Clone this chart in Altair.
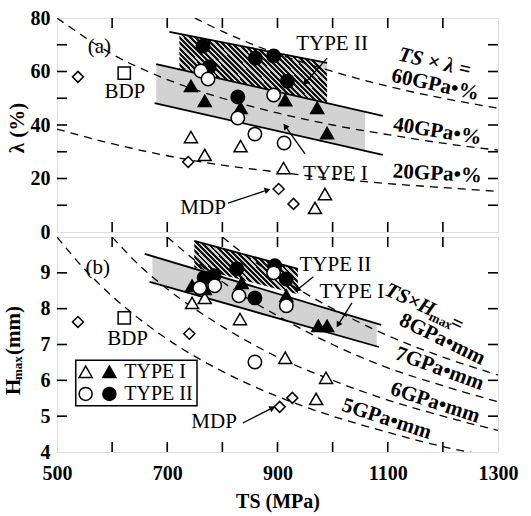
import altair as alt
import pandas as pd

FONT = "Liberation Serif"

# ---------------- panel (a): TS (MPa) vs lambda (%) ----------------
a_diamond_ts = [538, 738, 902, 929]
a_diamond_v = [58.0, 26.2, 16.1, 10.5]
a_bdp_ts = [622]
a_bdp_v = [59.4]
a_tri_open_ts = [743, 768, 833, 911, 968, 986]
a_tri_open_v = [35.5, 28.8, 32.1, 23.9, 9.0, 14.2]
a_tri_fill_ts = [743, 768, 833, 914, 972, 990]
a_tri_fill_v = [54.6, 49.0, 46.4, 49.3, 46.4, 37.0]
a_circ_fill_ts = [765, 860, 893, 776, 918, 828]
a_circ_fill_v = [69.5, 65.0, 65.8, 61.7, 56.4, 50.5]
a_circ_open_ts = [761, 774, 893, 828, 859, 912]
a_circ_open_v = [60.2, 57.2, 51.2, 42.6, 36.6, 33.3]

# bands (type II hatched, type I stippled) and their boundary lines
a_t2_ts = [722, 990]
a_t2_lo = [60.8, 48.2]
a_t2_hi = [74.1, 63.2]
a_t2_line_ts = [704, 990]
a_t2_line_v = [74.8, 63.2]
a_t1_ts = [680, 1059]
a_t1_lo = [48.1, 30.3]
a_t1_hi = [62.8, 44.9]
a_t1_up_ts = [680, 1091]
a_t1_up_v = [62.8, 43.4]
a_t1_low_ts = [677, 1091]
a_t1_low_v = [48.2, 28.8]

# iso TS x lambda curves
a_c20_ts = [500, 600, 700, 800, 900, 1000, 1100, 1200, 1300]
a_c20_v = [38.5, 33.0, 28.5, 25.0, 22.4, 20.0, 18.1, 16.6, 15.2]
a_c40_ts = [500, 600, 700, 800, 900, 1000, 1100, 1200, 1300]
a_c40_v = [80.0, 66.5, 57.0, 50.0, 44.5, 40.0, 36.4, 33.2, 30.6]
a_c60_ts = [750, 800, 900, 1000, 1100, 1200, 1300]
a_c60_v = [80.0, 75.0, 66.6, 60.0, 54.5, 50.0, 46.3]

# arrows (start, end) and head angle
a_arrow_grp = ["t2", "t2", "t1", "t1", "mdp", "mdp"]
a_arrow_ts = [990, 950, 950, 914, 810, 882]
a_arrow_v = [65.0, 55.7, 29.2, 39.6, 10.8, 15.7]
a_head_ts = [950, 914, 882]
a_head_v = [55.7, 39.6, 15.7]
a_head_ang = [221, 324, 73]

# texts
a_lab = ["(a)", "BDP", "TYPE II", "TYPE I", "MDP"]
a_lab_ts = [577, 623, 999, 1005, 765]
a_lab_v = [69.2, 52.3, 70.3, 21.7, 9.0]
a_curve_lab = ["60GPa•%", "40GPa•%", "20GPa•%"]
a_curve_lab_ts = [1186, 1190, 1190]
a_curve_lab_v = [55.0, 37.6, 21.7]
a_curve_lab_ang = [12, 9, 3]
a_head_lab = ["TS × λ ="]
a_head_lab_ts = [1185]
a_head_lab_v = [63.3]
a_head_lab_ang = [13]

# ---------------- panel (b): TS (MPa) vs Hmax (mm) ----------------
b_diamond_ts = [538, 740, 904, 927]
b_diamond_v = [7.63, 7.30, 5.26, 5.51]
b_bdp_ts = [622]
b_bdp_v = [7.74]
b_tri_open_ts = [745, 768, 832, 914, 988, 970]
b_tri_open_v = [8.16, 8.30, 7.71, 6.63, 6.07, 5.48]
b_tri_fill_ts = [745, 768, 835, 916, 974, 990]
b_tri_fill_v = [8.64, 8.55, 8.72, 8.36, 7.52, 7.52]
b_circ_fill_ts = [767, 785, 826, 895, 916, 859]
b_circ_fill_v = [8.86, 8.92, 9.11, 9.20, 8.83, 8.30]
b_circ_open_ts = [759, 786, 830, 893, 916, 859]
b_circ_open_v = [8.58, 8.64, 8.36, 9.00, 8.08, 6.51]

b_t2_ts = [749, 937]
b_t2_lo = [9.15, 8.40]
b_t2_hi = [9.89, 9.11]
b_t1_ts = [673, 1080]
b_t1_lo = [8.73, 6.95]
b_t1_hi = [9.50, 7.57]
b_t1_up_ts = [659, 1088]
b_t1_up_v = [9.53, 7.55]
b_t1_low_ts = [668, 1084]
b_t1_low_v = [8.75, 6.93]

b_c5_ts = [500, 550, 600, 700, 800, 900, 1000, 1100, 1200, 1300]
b_c5_v = [10.0, 9.1, 8.35, 7.15, 6.25, 5.55, 5.0, 4.55, 4.15, 3.85]
b_c6_ts = [600, 650, 700, 800, 900, 1000, 1100, 1200, 1300]
b_c6_v = [10.0, 9.2, 8.55, 7.5, 6.65, 6.0, 5.45, 5.0, 4.6]
b_c7_ts = [700, 750, 800, 900, 1000, 1100, 1200, 1300]
b_c7_v = [10.0, 9.35, 8.75, 7.8, 7.0, 6.35, 5.85, 5.4]
b_c8_ts = [800, 850, 900, 1000, 1100, 1200, 1300]
b_c8_v = [10.0, 9.4, 8.9, 8.0, 7.25, 6.65, 6.15]

b_arrow_grp = ["t2", "t2", "t1", "t1", "mdp", "mdp"]
b_arrow_ts = [965, 936, 1035, 1010, 837, 891]
b_arrow_v = [8.89, 8.53, 8.16, 7.55, 4.81, 5.23]
b_head_ts = [936, 1010, 891]
b_head_v = [8.53, 7.55, 5.23]
b_head_ang = [231, 212, 63]

b_lab = ["(b)", "BDP", "TYPE II", "TYPE I", "MDP"]
b_lab_ts = [574, 628, 1005, 1035, 785]
b_lab_v = [9.14, 7.16, 9.22, 8.47, 4.84]
b_curve_lab = ["8GPa•mm", "7GPa•mm", "6GPa•mm", "5GPa•mm"]
b_curve_lab_ts = [1199, 1194, 1186, 1098]
b_curve_lab_v = [7.14, 6.32, 5.37, 4.92]
b_curve_lab_ang = [26, 20, 18, 18]
b_head_lab_ts = [1097]
b_head_lab_v = [8.55]
b_head_lab_ang = [25]

# legend box (in panel b data coordinates)
leg_box_ts = [534, 754]
leg_box_v = [6.56, 5.29]
leg_open_tri_ts, leg_fill_tri_ts = [552], [595]
leg_tri_v = [6.24]
leg_circ_v = [5.62]
leg_text = ["TYPE I", "TYPE II"]
leg_text_ts = [622, 622]
leg_text_v = [6.24, 5.62]

W = 441
HA = 214
HB = 215
TICK = 10

xs = alt.Scale(domain=[500, 1300], nice=False, zero=False)
ya_s = alt.Scale(domain=[0, 80], nice=False, zero=False)
yb_s = alt.Scale(domain=[4, 10], nice=False, zero=False)

lab_axis = dict(labelFont=FONT, labelFontSize=20, labelFontWeight="bold", labelColor="black",
                ticks=False, domain=False, grid=False, labelFlush=False, labelOverlap=False)

x_axis_b = alt.Axis(values=list(range(500, 1301, 100)), format="d",
                    labelExpr="datum.value % 200 == 100 ? datum.label : ''",
                    title="TS (MPa)", titleFont=FONT, titleFontSize=20, titleFontWeight="bold",
                    titleColor="black", labelPadding=11, titlePadding=8, **lab_axis)
y_axis_a = alt.Axis(values=[0, 20, 40, 60, 80], title=None, labelPadding=7, **lab_axis)
y_axis_b = alt.Axis(values=[4, 5, 6, 7, 8, 9], title=None, labelPadding=7, **lab_axis)


def stripes(n, y2, dark, light, frac):
    stops = []
    for i in range(n):
        a, b, c = i / n, (i + frac) / n, (i + 1) / n
        stops += [alt.GradientStop(offset=a, color=dark), alt.GradientStop(offset=b, color=dark),
                  alt.GradientStop(offset=b, color=light), alt.GradientStop(offset=min(c, 1.0), color=light)]
    return alt.LinearGradient(gradient="linear", stops=stops, x1=0, y1=1, x2=1, y2=y2)


def df(**cols):
    return pd.DataFrame(cols)


def build_panel(X, Y, d, height, extra_y_ticks, x_ticks, hatch_n, hatch_y2):
    layers = []
    # stippled type I band
    layers.append(alt.Chart(df(ts=d["t1_ts"], v=d["t1_lo"], v2=d["t1_hi"])).mark_area(
        color="#d2d2d2", opacity=1).encode(x=X, y=Y, y2=alt.Y2("v2:Q")))
    # hatched type II band
    layers.append(alt.Chart(df(ts=d["t2_ts"], v=d["t2_lo"], v2=d["t2_hi"])).mark_area(
        color=stripes(hatch_n, hatch_y2, "#111111", "#d0d0d0", 0.55), opacity=1).encode(
        x=X, y=Y, y2=alt.Y2("v2:Q")))
    # dashed iso-product curves
    cts, cv, cg = [], [], []
    for k, (t, v) in enumerate(d["curves"]):
        cts += t
        cv += v
        cg += [k] * len(t)
    layers.append(alt.Chart(df(ts=cts, v=cv, g=cg)).mark_line(
        color="black", strokeWidth=1.3, strokeDash=[8, 6], clip=True, interpolate="monotone").encode(
        x=X, y=Y, detail="g:N"))
    # solid band boundary lines
    lts, lv, lg = [], [], []
    for k, (t, v) in enumerate(d["lines"]):
        lts += t
        lv += v
        lg += [k] * len(t)
    layers.append(alt.Chart(df(ts=lts, v=lv, g=lg)).mark_line(
        color="black", strokeWidth=1.8).encode(x=X, y=Y, detail="g:N"))
    # inward ticks
    tdf = df(ts=x_ticks)
    layers.append(alt.Chart(tdf).mark_rule(color="black", strokeWidth=1.6).encode(
        x=X, y=alt.value(0), y2=alt.value(TICK)))
    layers.append(alt.Chart(tdf).mark_rule(color="black", strokeWidth=1.6).encode(
        x=X, y=alt.value(height), y2=alt.value(height - TICK)))
    ydf = df(v=extra_y_ticks)
    layers.append(alt.Chart(ydf).mark_rule(color="black", strokeWidth=1.6).encode(
        y=Y, x=alt.value(0), x2=alt.value(TICK)))
    layers.append(alt.Chart(ydf).mark_rule(color="black", strokeWidth=1.6).encode(
        y=Y, x=alt.value(W), x2=alt.value(W - TICK)))

    def pts(ts, v, shape, filled, size):
        return alt.Chart(df(ts=ts, v=v)).mark_point(
            shape=shape, filled=True, fill="black" if filled else "white", stroke="black",
            strokeWidth=1.5, size=size, opacity=1).encode(x=X, y=Y)

    layers.append(pts(d["dia_ts"], d["dia_v"], "diamond", False, 120))
    layers.append(pts(d["bdp_ts"], d["bdp_v"], "square", False, 150))
    layers.append(pts(d["to_ts"], d["to_v"], "triangle-up", False, 170))
    layers.append(pts(d["tf_ts"], d["tf_v"], "triangle-up", True, 170))
    layers.append(pts(d["cf_ts"], d["cf_v"], "circle", True, 180))
    layers.append(pts(d["co_ts"], d["co_v"], "circle", False, 180))
    # arrows
    layers.append(alt.Chart(df(ts=d["ar_ts"], v=d["ar_v"], g=d["ar_g"])).mark_line(
        color="black", strokeWidth=1.3).encode(x=X, y=Y, detail="g:N"))
    layers.append(alt.Chart(df(ts=d["hd_ts"], v=d["hd_v"], ang=d["hd_ang"])).mark_point(
        shape="triangle-up", filled=True, color="black", size=45, opacity=1).encode(
        x=X, y=Y, angle=alt.Angle("ang:Q", scale=None)))
    # labels
    layers.append(alt.Chart(df(ts=d["lab_ts"], v=d["lab_v"], label=d["lab"])).mark_text(
        font=FONT, fontSize=21, color="black", align="center", baseline="middle").encode(
        x=X, y=Y, text="label:N"))
    layers.append(alt.Chart(df(ts=d["cl_ts"], v=d["cl_v"], label=d["cl"], ang=d["cl_ang"])).mark_text(
        font=FONT, fontSize=21, fontWeight="bold", color="black", align="center", baseline="middle").encode(
        x=X, y=Y, text="label:N", angle=alt.Angle("ang:Q", scale=None)))
    return layers


X_a = alt.X("ts:Q", scale=xs, axis=None)
Y_a = alt.Y("v:Q", scale=ya_s, axis=y_axis_a)
X_b = alt.X("ts:Q", scale=xs, axis=x_axis_b)
Y_b = alt.Y("v:Q", scale=yb_s, axis=y_axis_b)

da = dict(t1_ts=a_t1_ts, t1_lo=a_t1_lo, t1_hi=a_t1_hi, t2_ts=a_t2_ts, t2_lo=a_t2_lo, t2_hi=a_t2_hi,
          curves=[(a_c20_ts, a_c20_v), (a_c40_ts, a_c40_v), (a_c60_ts, a_c60_v)],
          lines=[(a_t2_line_ts, a_t2_line_v), (a_t1_up_ts, a_t1_up_v), (a_t1_low_ts, a_t1_low_v)],
          dia_ts=a_diamond_ts, dia_v=a_diamond_v, bdp_ts=a_bdp_ts, bdp_v=a_bdp_v,
          to_ts=a_tri_open_ts, to_v=a_tri_open_v, tf_ts=a_tri_fill_ts, tf_v=a_tri_fill_v,
          cf_ts=a_circ_fill_ts, cf_v=a_circ_fill_v, co_ts=a_circ_open_ts, co_v=a_circ_open_v,
          ar_ts=a_arrow_ts, ar_v=a_arrow_v, ar_g=a_arrow_grp,
          hd_ts=a_head_ts, hd_v=a_head_v, hd_ang=a_head_ang,
          lab=a_lab, lab_ts=a_lab_ts, lab_v=a_lab_v,
          cl=a_curve_lab, cl_ts=a_curve_lab_ts, cl_v=a_curve_lab_v, cl_ang=a_curve_lab_ang)

db = dict(t1_ts=b_t1_ts, t1_lo=b_t1_lo, t1_hi=b_t1_hi, t2_ts=b_t2_ts, t2_lo=b_t2_lo, t2_hi=b_t2_hi,
          curves=[(b_c5_ts, b_c5_v), (b_c6_ts, b_c6_v), (b_c7_ts, b_c7_v), (b_c8_ts, b_c8_v)],
          lines=[(b_t2_ts, b_t2_hi), (b_t1_up_ts, b_t1_up_v), (b_t1_low_ts, b_t1_low_v)],
          dia_ts=b_diamond_ts, dia_v=b_diamond_v, bdp_ts=b_bdp_ts, bdp_v=b_bdp_v,
          to_ts=b_tri_open_ts, to_v=b_tri_open_v, tf_ts=b_tri_fill_ts, tf_v=b_tri_fill_v,
          cf_ts=b_circ_fill_ts, cf_v=b_circ_fill_v, co_ts=b_circ_open_ts, co_v=b_circ_open_v,
          ar_ts=b_arrow_ts, ar_v=b_arrow_v, ar_g=b_arrow_grp,
          hd_ts=b_head_ts, hd_v=b_head_v, hd_ang=b_head_ang,
          lab=b_lab, lab_ts=b_lab_ts, lab_v=b_lab_v,
          cl=b_curve_lab, cl_ts=b_curve_lab_ts, cl_v=b_curve_lab_v, cl_ang=b_curve_lab_ang)

x_tick_vals = list(range(600, 1300, 100))
layers_a = build_panel(X_a, Y_a, da, HA, [10, 20, 30, 40, 50, 60, 70], x_tick_vals, 34, 0.54)
layers_b = build_panel(X_b, Y_b, db, HB, [5, 6, 7, 8, 9], x_tick_vals, 25, 0.49)

# panel a: italic "TS x lambda =" header
layers_a.append(alt.Chart(df(ts=a_head_lab_ts, v=a_head_lab_v, label=a_head_lab, ang=a_head_lab_ang)).mark_text(
    font=FONT, fontSize=21, fontStyle="italic", fontWeight="bold", color="black", align="center",
    baseline="middle").encode(x=X_a, y=Y_a, text="label:N", angle=alt.Angle("ang:Q", scale=None)))
# panel a y title
layers_a.append(alt.Chart(df(label=["λ (%)"])).mark_text(
    font=FONT, fontSize=21, fontWeight="bold", color="black", angle=270, align="center", baseline="middle").encode(
    x=alt.value(-39), y=alt.value(110), text="label:N"))

# panel b: "TS x Hmax =" header with subscript
hb = df(ts=b_head_lab_ts, v=b_head_lab_v, ang=b_head_lab_ang)
for txt, size, dx, dy, style in [("TS×H", 21, 0, 0, "italic"), ("max", 13, 51, 6, "normal"),
                                 ("=", 21, 73, 2, "normal")]:
    layers_b.append(alt.Chart(hb.assign(label=[txt])).mark_text(
        font=FONT, fontSize=size, fontStyle=style, fontWeight="bold", color="black",
        align="left", baseline="middle", dx=dx, dy=dy).encode(
        x=X_b, y=Y_b, text="label:N", angle=alt.Angle("ang:Q", scale=None)))
# panel b y title with subscript
for txt, size, dx, dy in [("H", 21, 0, 0), ("max", 13, 15, 4), ("(mm)", 21, 40, 0)]:
    layers_b.append(alt.Chart(df(label=[txt])).mark_text(
        font=FONT, fontSize=size, fontWeight="bold", color="black", angle=270, align="left",
        baseline="middle", dx=dx, dy=dy).encode(x=alt.value(-43), y=alt.value(158), text="label:N"))

# legend box
layers_b.append(alt.Chart(df(ts=[leg_box_ts[0]], t2=[leg_box_ts[1]], v=[leg_box_v[0]], v2=[leg_box_v[1]])).mark_rect(
    fill="white", stroke="black", strokeWidth=1.5).encode(
    x=X_b, x2=alt.X2("t2:Q"), y=Y_b, y2=alt.Y2("v2:Q")))
for ts, v, shape, filled in [(leg_open_tri_ts, leg_tri_v, "triangle-up", False),
                             (leg_fill_tri_ts, leg_tri_v, "triangle-up", True),
                             (leg_open_tri_ts, leg_circ_v, "circle", False),
                             (leg_fill_tri_ts, leg_circ_v, "circle", True)]:
    layers_b.append(alt.Chart(df(ts=ts, v=v)).mark_point(
        shape=shape, filled=True, fill="black" if filled else "white", stroke="black",
        strokeWidth=1.5, size=170, opacity=1).encode(x=X_b, y=Y_b))
layers_b.append(alt.Chart(df(ts=leg_text_ts, v=leg_text_v, label=leg_text)).mark_text(
    font=FONT, fontSize=20, color="black", align="left", baseline="middle").encode(
    x=X_b, y=Y_b, text="label:N"))

top = alt.layer(*layers_a).properties(width=W, height=HA)
bottom = alt.layer(*layers_b).properties(width=W, height=HB)

chart = alt.vconcat(top, bottom, spacing=5, bounds="flush").properties(
    padding={"left": 2, "top": 7, "right": 5, "bottom": 5}
).configure_view(stroke="black", strokeWidth=2.2).configure(background="white")

chart.save("out.html", embed_options={"renderer": "svg", "actions": False})
